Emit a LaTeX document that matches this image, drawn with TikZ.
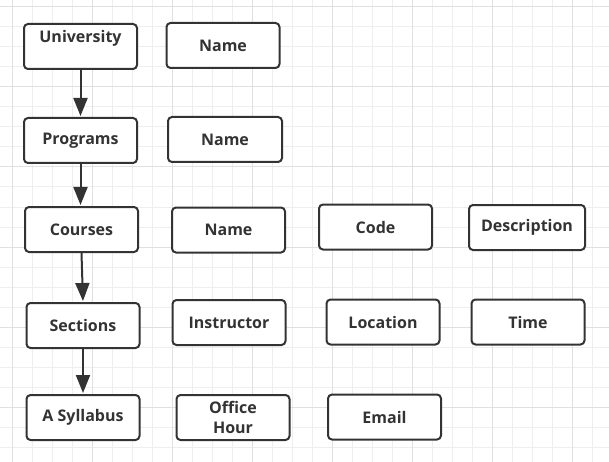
\documentclass[tikz,border=0pt]{standalone}
\usepackage{fontspec}
\setmainfont{Open Sans}
\usetikzlibrary{arrows.meta}
\definecolor{ink}{HTML}{333333}
\definecolor{gridminor}{HTML}{EEEEEE}
\definecolor{gridmajor}{HTML}{E0E0E0}
\tikzset{
  box/.style={draw=ink, line width=2pt, rounded corners=4pt, fill=white,
    minimum width=113pt, minimum height=45pt, inner sep=1pt,
    text=ink, font=\bfseries\fontsize{16}{20}\selectfont, align=center},
  flow/.style={draw=ink, line width=2pt, -{Triangle[length=18pt,width=14pt]}, shorten >=1pt}
}
\begin{document}
\begin{tikzpicture}[x=1pt,y=-1pt]
\useasboundingbox (0,0) rectangle (609,462);
% grid
\foreach \gx in {12,32,...,600} \draw[gridminor, line width=1pt] (\gx,0) -- (\gx,462);
\foreach \gy in {7,27,...,460} \draw[gridminor, line width=1pt] (0,\gy) -- (609,\gy);
\foreach \gx in {12,92,...,600} \draw[gridmajor, line width=1pt] (\gx,0) -- (\gx,462);
\foreach \gy in {7,87,...,460} \draw[gridmajor, line width=1pt] (0,\gy) -- (609,\gy);
% nodes
\node[box] (univ) at (80.5,46.5) {University\\\mbox{}};
\node[box] (name1) at (223,45.5) {Name};
\node[box] (prog) at (80.5,140.5) {Programs};
\node[box, minimum width=114pt] (name2) at (225,139.5) {Name};
\node[box] (courses) at (81.5,229.5) {Courses};
\node[box] (name3) at (228.5,230) {Name};
\node[box] (code) at (375.5,227) {Code};
\node[box, minimum width=116pt] (desc) at (527,227.5) {Description};
\node[box] (sections) at (83,325.5) {Sections};
\node[box] (instr) at (229,322.5) {Instructor};
\node[box] (loc) at (383,322) {Location};
\node[box] (time) at (528,322) {Time};
\node[box] (syll) at (83,417.5) {A Syllabus};
\node[box] (office) at (233,417.5) {Office\\Hour};
\node[box] (email) at (384.5,417) {Email};
% connectors
\draw[flow] (univ.south) -- (prog.north);
\draw[flow] (prog.south) -- (courses.north -| prog.south);
\draw[flow] (courses.south) -- (sections.north);
\draw[flow] (sections.south) -- (syll.north);
\end{tikzpicture}
\end{document}
